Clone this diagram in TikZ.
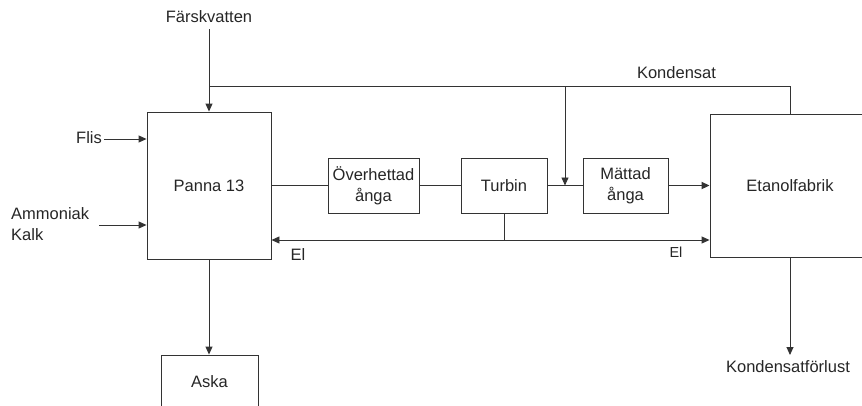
\documentclass[tikz,border=0pt]{standalone}
\usepackage{fontspec}
\setmainfont{Liberation Sans}
\usetikzlibrary{arrows.meta}
\begin{document}
\begin{tikzpicture}[x=1pt,y=-1pt,
  every node/.style={font=\fontsize{16.5}{21}\selectfont, text=black!85},
  line/.style={draw=black!80, line width=0.9pt},
  arr/.style={line, -{Triangle[length=8pt,width=7pt]}},
  box/.style={line, rectangle, inner sep=0pt, align=center},
  lbl/.style={inner sep=0pt}]
\useasboundingbox (0,0) rectangle (862,405);
\clip (0,0) rectangle (862,405);
% boxes
\node[box, minimum width=124pt, minimum height=147pt] (panna) at (209,185.5) {Panna 13};
\node[box, minimum width=91pt, minimum height=55pt] (over) at (373.5,185.5) {Överhettad\\ånga};
\node[box, minimum width=86pt, minimum height=55pt] (turbin) at (504,185.5) {Turbin};
\node[box, minimum width=85pt, minimum height=55pt] (matt) at (625.5,186) {Mättad\\ånga};
\node[box, minimum width=160pt, minimum height=143pt] (etanol) at (790,185.5) {Etanolfabrik};
\node[box, minimum width=97pt, minimum height=54pt] (aska) at (209.5,382) {Aska};
% labels
\node[lbl] (fv) at (209,17) {Färskvatten};
\node[lbl] (kond) at (676.5,73) {Kondensat};
\node[lbl] (flis) at (89,138) {Flis};
\node[lbl, align=left, anchor=west] (amm) at (11,224) {Ammoniak\\Kalk};
\node[lbl] (el1) at (298,254.5) {El};
\node[lbl, font=\fontsize{14.5}{17}\selectfont] (el2) at (676,252) {El};
\node[lbl] (kf) at (788,367) {Kondensatförlust};
% coordinates
\coordinate (kj) at (209,86);
\coordinate (kb) at (565,86);
\coordinate (km) at (565,185.5);
\coordinate (flisend) at (104,139);
\coordinate (ammend) at (99,225);
\coordinate (kfend) at (790,355);
% connectors
\draw[arr] (fv.south) ++(0,6) -- (panna.north);
\draw[line] (etanol.north) |- (kj);
\draw[arr] (kb) -- (km);
\draw[arr] (flisend) -- (panna.west |- flisend);
\draw[arr] (ammend) -- (panna.west |- ammend);
\draw[line] (panna.east) -- (over.west);
\draw[line] (over.east) -- (turbin.west);
\draw[line] (turbin.east) -- (matt.west |- turbin.east);
\draw[arr, line width=1.9pt] (matt.east |- turbin.east) -- (etanol.west |- turbin.east);
\draw[line, {Triangle[length=8pt,width=7pt]}-{Triangle[length=8pt,width=7pt]}] (panna.east |- 0,240) -- (etanol.west |- 0,240);
\draw[line] (turbin.south) -- (turbin.south |- 0,240);
\draw[arr] (panna.south) -- (panna.south |- aska.north);
\draw[arr] (etanol.south) -- (kfend);
\end{tikzpicture}
\end{document}
